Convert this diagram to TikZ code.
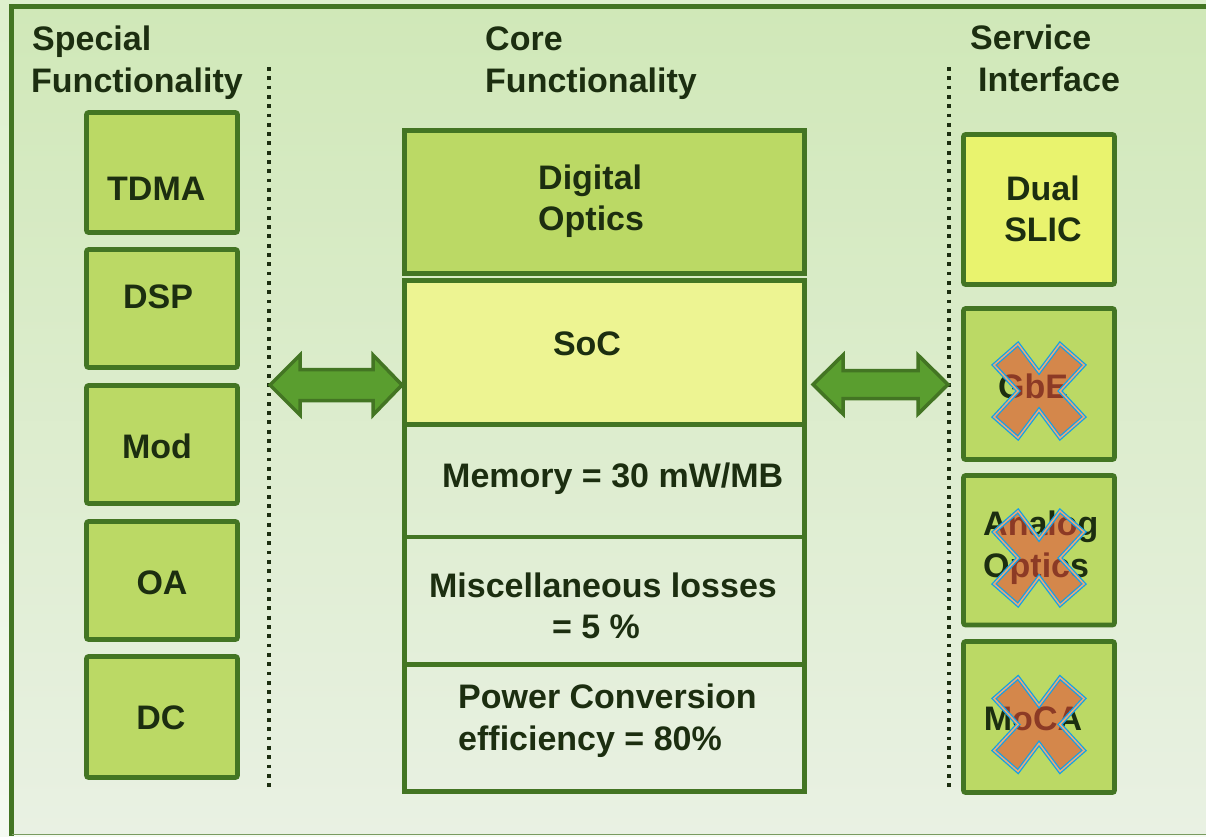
\documentclass[tikz,border=0pt]{standalone}
\usepackage{fontspec}
\setmainfont{Liberation Sans}
\definecolor{frame}{RGB}{67,117,35}
\definecolor{boxfill}{RGB}{187,217,101}
\definecolor{socfill}{RGB}{237,244,146}
\definecolor{slicfill}{RGB}{233,243,110}
\definecolor{txt}{RGB}{28,46,16}
\definecolor{arrowfill}{RGB}{90,158,47}
\definecolor{crossfill}{RGB}{233,68,55}
\definecolor{crossline}{RGB}{20,160,232}
\definecolor{crossgap}{RGB}{236,170,120}
\definecolor{bgtop}{RGB}{208,232,184}
\definecolor{bgmid}{RGB}{227,238,218}
\definecolor{bgbot}{RGB}{233,241,227}
\definecolor{outtop}{RGB}{222,240,205}
\definecolor{outbot}{RGB}{245,250,242}
\tikzset{
  blk/.style={draw=frame, line width=4.6pt, rounded corners=2pt, inner sep=0pt, minimum width=151pt},
  cblk/.style={draw=frame, line width=4.3pt, inner sep=0pt, minimum width=400pt},
  lbl/.style={font=\fontsize{34}{42}\selectfont\bfseries, text=txt, inner sep=0pt},
  dotline/.style={draw=txt, line width=4pt, dash pattern=on 3.8pt off 5.5pt},
  bigarrow/.style={draw=frame, fill=arrowfill, line width=3.5pt, line join=miter},
  xmark/.pic={
    \path[draw=crossline, line width=1.3pt, double=crossgap, double distance=1.5pt,
          fill=crossfill, fill opacity=0.55, line join=miter]
      (-45,-26) -- (-21,-47) -- (0,-19) -- (21,-47) -- (45,-26) -- (21,0) --
      (45,26) -- (21,47) -- (0,19) -- (-21,47) -- (-45,26) -- (-21,0) -- cycle;
  }
}
\begin{document}
\begin{tikzpicture}[x=1pt,y=-1pt]
\useasboundingbox (0,0) rectangle (1206,836);
% background
\shade[top color=outtop, bottom color=outbot] (0,0) rectangle (1206,836);
\shade[top color=bgtop, middle color=bgmid, bottom color=bgbot] (11.5,6.5) rectangle (1206,834.5);
\draw[frame, line width=5pt] (11.5,836) -- (11.5,6.5) -- (1206,6.5);
\draw[color={rgb,255:red,120;green,155;blue,95}, line width=1.5pt] (11.5,834.5) -- (1206,834.5);

% headers
\node[lbl, anchor=base west] (hs1) at (32,50) {Special};
\node[lbl, anchor=base west] (hs2) at (31,92) {Functionality};
\node[lbl, anchor=base west] (hc1) at (485,50) {Core};
\node[lbl, anchor=base west] (hc2) at (485,92) {Functionality};
\node[lbl, anchor=base west] (hv1) at (970,49) {Service};
\node[lbl, anchor=base west] (hv2) at (978,91) {Interface};

% dotted separators
\coordinate (dl1) at (268.5,67);
\coordinate (dl2) at (268.5,790);
\coordinate (dr1) at (948.5,67);
\coordinate (dr2) at (948.5,790);
\draw[dotline] (dl1) -- (dl2);
\draw[dotline] (dr1) -- (dr2);

% left column
\node[blk, fill=boxfill, minimum height=120pt] (tdma) at (162,172.5) {};
\node[blk, fill=boxfill, minimum height=118pt] (dsp) at (162,308.5) {};
\node[blk, fill=boxfill, minimum height=118pt] (mod) at (162,444.5) {};
\node[blk, fill=boxfill, minimum height=118pt] (oa) at (162,580.5) {};
\node[blk, fill=boxfill, minimum height=121pt] (dc) at (162,717) {};
\node[lbl, anchor=base west] (ttdma) at (107,200) {TDMA};
\node[lbl, anchor=base] (tdsp) at (158,308) {DSP};
\node[lbl, anchor=base] (tmod) at (157,458) {Mod};
\node[lbl, anchor=base] (toa) at (162,594) {OA};
\node[lbl, anchor=base] (tdc) at (161,729) {DC};

% center column
\node[cblk, fill=boxfill, minimum height=143pt] (dig) at (604.5,202) {};
\node[cblk, fill=socfill, minimum height=144pt] (soc) at (604.5,352.5) {};
\node[cblk, minimum height=112.5pt] (mem) at (604.5,480.75) {};
\node[cblk, minimum height=127.5pt] (misc) at (604.5,600.75) {};
\node[cblk, minimum height=127pt] (pwr) at (604.5,728) {};
\node[lbl, anchor=base west] (tdig1) at (538,189) {Digital};
\node[lbl, anchor=base west] (tdig2) at (538,230) {Optics};
\node[lbl, anchor=base] (tsoc) at (587,355) {SoC};
\node[lbl, anchor=base west] (tmem) at (442,487) {Memory = 30 mW/MB};
\node[lbl, anchor=base] (tmisc1) at (603,597) {Miscellaneous losses};
\node[lbl, anchor=base] (tmisc2) at (596,638) {= 5 \%};
\node[lbl, anchor=base west] (tpwr1) at (458,708) {Power Conversion};
\node[lbl, anchor=base west] (tpwr2) at (458,750) {efficiency = 80\%};

% right column
\node[blk, fill=slicfill, minimum height=150pt] (slic) at (1039,209.5) {};
\node[blk, fill=boxfill, minimum height=151pt] (gbe) at (1039,384) {};
\node[blk, fill=boxfill, minimum height=149.5pt] (ana) at (1039,550.25) {};
\node[blk, fill=boxfill, minimum height=151pt] (moca) at (1039,717) {};
\node[lbl, anchor=base] (tslic1) at (1043,200) {Dual};
\node[lbl, anchor=base] (tslic2) at (1043,241) {SLIC};
\node[lbl, anchor=base] (tgbe) at (1033,398) {GbE};
\node[lbl, anchor=base west] (tana1) at (983,535) {Analog};
\node[lbl, anchor=base west] (tana2) at (983,577) {Optics};
\node[lbl, anchor=base] (tmoca) at (1033,730) {MoCA};

% crosses
\pic at (1039,391) {xmark};
\pic at (1039,558) {xmark};
\pic at (1039,724.5) {xmark};

% block arrows
\coordinate (la) at (270,385);
\coordinate (ra) at (813,384.5);
\draw[bigarrow] (la) -- ++(30,-30) -- ++(0,14.5) -- ++(73,0) -- ++(0,-14.5) -- ++(29,30)
  -- ++(-29,30) -- ++(0,-14.5) -- ++(-73,0) -- ++(0,14.5) -- cycle;
\draw[bigarrow] (ra) -- ++(30,-29.5) -- ++(0,15.5) -- ++(75,0) -- ++(0,-15.5) -- ++(30,29.5)
  -- ++(-30,29.5) -- ++(0,-15.5) -- ++(-75,0) -- ++(0,15.5) -- cycle;
\end{tikzpicture}
\end{document}
